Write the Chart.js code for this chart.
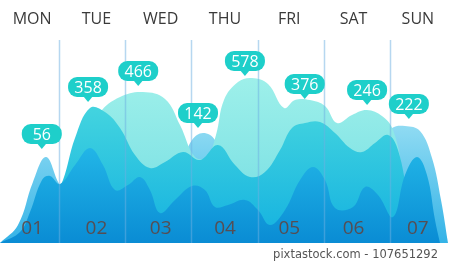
<!DOCTYPE html>
<html>
<head>
<meta charset="utf-8">
<script src="https://cdn.jsdelivr.net/npm/chart.js@4/dist/chart.umd.min.js"></script>
<style>
    html, body { margin: 0; padding: 0; background: #fff; }
    #wrap { width: 450px; height: 262px; position: relative; }
</style>
</head>
<body>
<div id="wrap"><canvas id="waveChart" width="450" height="262"></canvas></div>
<script>
// day columns (x = day index, 0..6)
const days = ['MON', 'TUE', 'WED', 'THU', 'FRI', 'SAT', 'SUN'];
const dayNums = ['01', '02', '03', '04', '05', '06', '07'];
const dividers = [0.42, 1.44, 2.47, 3.51, 4.54, 5.57];

// callout bubbles
const bubbleValues = [56, 358, 466, 142, 578, 376, 246, 222];
const bubbleX = [0.15, 0.87, 1.65, 2.58, 3.31, 4.24, 5.21, 5.86];
const bubbleY = [47, 70.5, 78.5, 57.5, 83.5, 72, 69, 62];

// wave layers, back to front
const skyX = [-0.5, -0.22, 0.013, 0.216, 0.433, 0.667, 1.211, 1.833, 2.3, 2.487, 2.658, 2.844, 3.0, 3.389, 4.167, 4.944, 5.333, 5.598, 5.8, 6.033, 6.22, 6.36, 6.469];
const skyY = [0, 9, 30.5, 43, 29, 21.5, 21.5, 21.5, 39, 51.5, 55, 51.5, 36.5, 21.5, 21.5, 31.5, 49, 57.5, 58.5, 56, 42.5, 21.5, 0];

const paleX = [0.122, 0.589, 1.056, 1.367, 1.724, 2.067, 2.3, 2.533, 2.72, 2.86, 2.984, 3.202, 3.42, 3.669, 3.918, 4.089, 4.322, 4.556, 4.742, 4.976, 5.209, 5.442, 5.613, 5.753, 5.878];
const paleY = [0, 34, 65, 73, 75.5, 72, 59, 43, 43, 54, 71.5, 80.5, 82.5, 79.5, 67.5, 71.5, 71.5, 68.5, 60, 64, 66.5, 63.5, 56.5, 36.5, 0];

const tealX = [-0.344, 0.122, 0.356, 0.48, 0.667, 0.9, 1.133, 1.367, 1.6, 1.833, 2.067, 2.347, 2.611, 2.891, 3.156, 3.389, 3.622, 3.856, 4.042, 4.244, 4.478, 4.711, 4.944, 5.131, 5.333, 5.536, 5.691, 5.847, 5.956];
const tealY = [0, 15.5, 25.5, 31.5, 52.5, 67.5, 65.5, 57.5, 44, 37.5, 40.5, 45.5, 41.5, 49, 39, 33, 35.5, 46.5, 57.5, 60, 60.5, 55, 47.5, 45.5, 50, 54, 46.5, 21.5, 0];

const deepX = [-0.5, -0.189, -0.033, 0.153, 0.278, 0.433, 0.667, 0.9, 1.102, 1.289, 1.491, 1.678, 1.833, 1.989, 2.222, 2.487, 2.689, 2.844, 3.047, 3.311, 3.513, 3.7, 3.933, 4.167, 4.369, 4.556, 4.711, 4.991, 5.178, 5.38, 5.613, 5.8, 5.987, 6.142, 6.267, 6.344];
const deepY = [0, 5.5, 15.5, 31.5, 33.5, 29.5, 39, 47.5, 39, 26.5, 29, 33, 26.5, 15, 21.5, 28.5, 26.5, 18, 19, 21.5, 16.5, 9, 16.5, 31.5, 38, 31.5, 17.5, 18, 28, 24, 13, 34, 43, 34, 11.5, 0];

const toPoints = (xs, ys) => xs.map((x, i) => ({ x: x, y: ys[i] }));

// vertical gradient helper, stops given in y-values
function grad(topVal, topColor, bottomColor) {
    return function (ctx) {
        const chart = ctx.chart;
        const area = chart.chartArea;
        if (!area) return bottomColor;
        const y = chart.scales.y;
        const g = chart.ctx.createLinearGradient(0, y.getPixelForValue(topVal), 0, y.getPixelForValue(0));
        g.addColorStop(0, topColor);
        g.addColorStop(1, bottomColor);
        return g;
    };
}

function layer(data, bg, order) {
    return {
        data: data,
        backgroundColor: bg,
        borderWidth: 0,
        pointRadius: 0,
        fill: 'origin',
        tension: 0.4,
        order: order
    };
}

const decorations = {
    id: 'decorations',
    afterDatasetsDraw(chart) {
        const ctx = chart.ctx;
        const x = chart.scales.x;
        const y = chart.scales.y;
        const base = y.getPixelForValue(0);

        ctx.save();
        // column dividers
        ctx.strokeStyle = 'rgba(110, 175, 225, 0.5)';
        ctx.lineWidth = 1.5;
        dividers.forEach(d => {
            const px = Math.round(x.getPixelForValue(d)) + 0.5;
            ctx.beginPath();
            ctx.moveTo(px, 40);
            ctx.lineTo(px, base);
            ctx.stroke();
        });

        // day names on top
        ctx.fillStyle = '#3a3a3a';
        ctx.font = '16px "Open Sans"';
        ctx.textAlign = 'center';
        ctx.textBaseline = 'alphabetic';
        days.forEach((d, i) => ctx.fillText(d, x.getPixelForValue(i), 24));

        // day numbers inside the waves
        ctx.fillStyle = 'rgba(92, 72, 72, 0.92)';
        ctx.font = '19px "Open Sans"';
        dayNums.forEach((d, i) => ctx.fillText(d, x.getPixelForValue(i), 234));

        // value bubbles
        ctx.font = '16px "Open Sans"';
        ctx.textBaseline = 'middle';
        bubbleValues.forEach((v, i) => {
            const tx = x.getPixelForValue(bubbleX[i]);
            const ty = y.getPixelForValue(bubbleY[i]);
            const w = 40, h = 20, r = 9;
            const left = tx - w / 2, top = ty - 5 - h;
            ctx.fillStyle = '#1ecfca';
            ctx.beginPath();
            ctx.roundRect(left, top, w, h, r);
            ctx.fill();
            ctx.beginPath();
            ctx.moveTo(tx - 5, top + h - 1);
            ctx.lineTo(tx + 5, top + h - 1);
            ctx.lineTo(tx, ty);
            ctx.closePath();
            ctx.fill();
            ctx.fillStyle = '#ffffff';
            ctx.fillText(String(v), tx, top + h / 2 + 1);
        });

        // stock id line
        ctx.fillStyle = '#555';
        ctx.font = '11.5px "DejaVu Sans"';
        ctx.textAlign = 'right';
        ctx.textBaseline = 'alphabetic';
        ctx.fillText('pixtastock.com - 107651292', 438, 258);
        ctx.restore();
    }
};

const ctx = document.getElementById('waveChart').getContext('2d');

new Chart(ctx, {
    type: 'line',
    data: {
        datasets: [
            layer(toPoints(deepX, deepY), grad(48, '#22b6e7', '#0a8cd4'), 0),
            layer(toPoints(tealX, tealY), grad(68, '#43d4df', '#13b1e0'), 1),
            layer(toPoints(paleX, paleY), grad(83, '#9ef0ea', '#70dbe2'), 2),
            layer(toPoints(skyX, skyY), grad(60, '#92dcf3', '#34b3e7'), 3)
        ]
    },
    options: {
        responsive: false,
        devicePixelRatio: 1,
        animation: false,
        layout: { padding: { top: 3, bottom: 19, left: 0, right: 0 } },
        plugins: {
            legend: { display: false },
            tooltip: { enabled: false }
        },
        scales: {
            x: { type: 'linear', min: -0.5, max: 6.5, display: false },
            y: { min: 0, max: 120, display: false }
        }
    },
    plugins: [decorations]
});
</script>
</body>
</html>
